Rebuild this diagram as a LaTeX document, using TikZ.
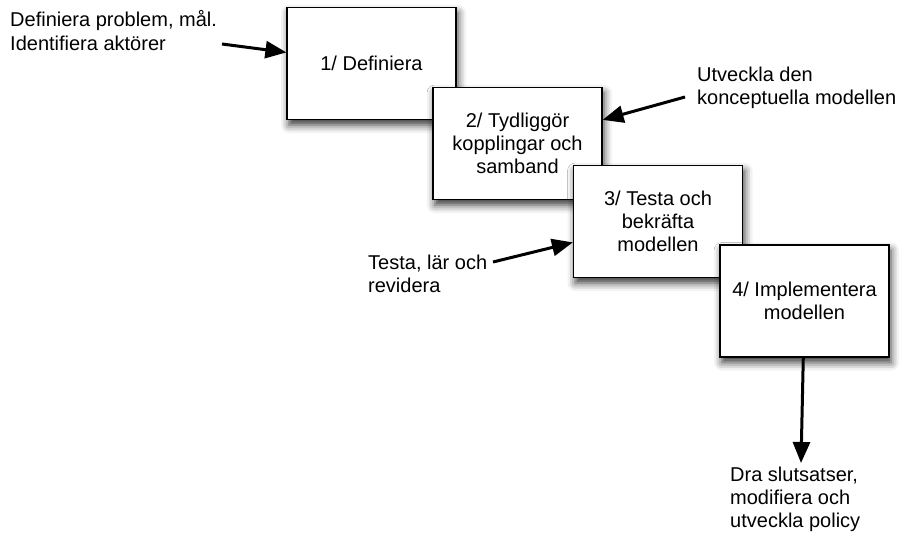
\documentclass[tikz,border=0pt]{standalone}
\usepackage{fontspec}
\setmainfont{Liberation Sans}
\usetikzlibrary{arrows.meta,shadows.blur}

\tikzset{
  stage/.style={
    draw=black, line width=1.2pt, fill=white,
    minimum width=169pt, minimum height=112pt,
    inner sep=2pt, align=center,
    font=\fontsize{20}{23}\selectfont,
    blur shadow={shadow xshift=2pt, shadow yshift=-5.5pt,
                 shadow blur radius=8pt, shadow opacity=80}
  },
  % multi-line notes are placed by the baseline of their last line
  note/.style={inner sep=0pt, align=left, anchor=base west,
    font=\fontsize{20}{23}\selectfont},
  pointer/.style={line width=3pt,
    -{Triangle[length=21pt,width=17pt]}}
}

\begin{document}
\begin{tikzpicture}[x=1pt,y=-1pt]
  \useasboundingbox (0,0) rectangle (901,535);

  % the four stages, each partly covering the one before
  \node[stage] (b1) at (371.5,63.5) {1/ Definiera};
  \node[stage] (b2) at (517.5,143.5) {2/ Tydliggör\\kopplingar och\\samband};
  \node[stage] (b3) at (658,221.5) {3/ Testa och\\bekräfta\\modellen};
  \node[stage] (b4) at (804.5,301) {4/ Implementera\\modellen};

  % side notes
  \node[note] (n1) at (10,50) {Definiera problem, mål.\\Identifiera aktörer};
  \node[note] (n2) at (697,104) {Utveckla den\\konceptuella modellen};
  \node[note] (n3) at (368,292) {Testa, lär och\\revidera};
  \node[note] (n4) at (730,527) {Dra slutsatser,\\modifiera och\\utveckla policy};

  % free ends of the arrows
  \coordinate (t1) at (222,44);
  \coordinate (t2) at (685,97);
  \coordinate (t3) at (493,262);
  \coordinate (t4) at (801,463);

  \draw[pointer] (t1) -- (b1);
  \draw[pointer] (t2) -- (b2);
  \draw[pointer] (t3) -- (b3);
  \draw[pointer] (b4) -- (t4);
\end{tikzpicture}
\end{document}
